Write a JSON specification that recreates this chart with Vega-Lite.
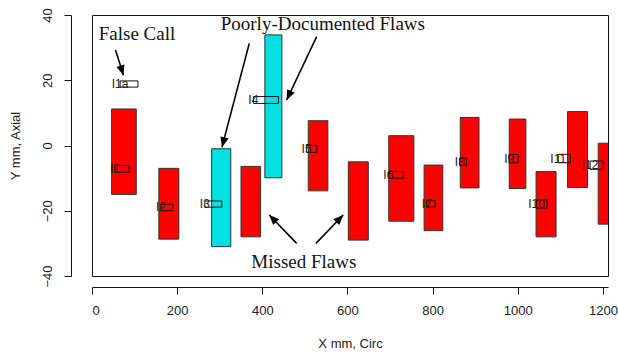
{
  "$schema": "https://vega.github.io/schema/vega-lite/v6.json",
  "width": 516,
  "height": 261,
  "autosize": {"type": "none"},
  "padding": {"left": 92, "top": 15, "right": 10, "bottom": 77},
  "background": "white",
  "config": {
    "font": "Liberation Sans",
    "view": {"stroke": "#111", "strokeWidth": 1},
    "axis": {
      "grid": false,
      "domainColor": "#111",
      "tickColor": "#111",
      "labelColor": "#222",
      "titleColor": "#222",
      "labelFont": "Liberation Sans",
      "titleFont": "Liberation Sans",
      "labelFontSize": 13,
      "titleFontSize": 13,
      "titleFontWeight": "normal",
      "tickSize": 7,
      "domainWidth": 1,
      "tickWidth": 1
    }
  },
  "datasets": {
    "flaws": [
      {"id": "I1", "x1": 46, "x2": 104, "y1": -15.0, "y2": 11.2, "type": "flaw"},
      {"id": "I2", "x1": 157, "x2": 204, "y1": -28.7, "y2": -7.0, "type": "flaw"},
      {"id": "I3", "x1": 281, "x2": 326, "y1": -31.0, "y2": -1.0, "type": "poor"},
      {"id": "M1", "x1": 350, "x2": 396, "y1": -28.0, "y2": -6.4, "type": "missed"},
      {"id": "I4", "x1": 406, "x2": 446, "y1": -9.9, "y2": 33.9, "type": "poor"},
      {"id": "I5", "x1": 508, "x2": 554, "y1": -13.9, "y2": 7.6, "type": "flaw"},
      {"id": "M2", "x1": 602, "x2": 649, "y1": -29.0, "y2": -5.0, "type": "missed"},
      {"id": "I6", "x1": 697, "x2": 756, "y1": -23.2, "y2": 3.0, "type": "flaw"},
      {"id": "I7", "x1": 780, "x2": 824, "y1": -26.1, "y2": -6.0, "type": "flaw"},
      {"id": "I8", "x1": 865, "x2": 909, "y1": -13.0, "y2": 8.6, "type": "flaw"},
      {"id": "I9", "x1": 980, "x2": 1019, "y1": -13.2, "y2": 8.1, "type": "flaw"},
      {"id": "I10", "x1": 1043, "x2": 1090, "y1": -28.0, "y2": -8.0, "type": "flaw"},
      {"id": "I11", "x1": 1117, "x2": 1164, "y1": -12.9, "y2": 10.4, "type": "flaw"},
      {"id": "I12", "x1": 1189, "x2": 1240, "y1": -24.1, "y2": 0.7, "type": "flaw"}
    ],
    "indications": [
      {"label": "I1a", "x1": 66, "x2": 108, "y1": 17.9, "y2": 19.8, "ym": 18.85},
      {"label": "I1", "x1": 54, "x2": 87, "y1": -8.2, "y2": -6.1, "ym": -7.15},
      {"label": "I2", "x1": 162, "x2": 190, "y1": -20.0, "y2": -18.0, "ym": -19.0},
      {"label": "I3", "x1": 265, "x2": 305, "y1": -18.9, "y2": -17.0, "ym": -17.95},
      {"label": "I4", "x1": 379, "x2": 438, "y1": 12.9, "y2": 15.0, "ym": 13.95},
      {"label": "I5", "x1": 504, "x2": 528, "y1": -2.1, "y2": 0.0, "ym": -1.05},
      {"label": "I6", "x1": 696, "x2": 732, "y1": -10.0, "y2": -8.0, "ym": -9.0},
      {"label": "I7", "x1": 786, "x2": 806, "y1": -18.9, "y2": -16.9, "ym": -17.9},
      {"label": "I8", "x1": 864, "x2": 880, "y1": -6.1, "y2": -3.9, "ym": -5.0},
      {"label": "I9", "x1": 980, "x2": 1001, "y1": -5.3, "y2": -2.7, "ym": -4.0},
      {"label": "I10", "x1": 1044, "x2": 1069, "y1": -19.2, "y2": -16.7, "ym": -17.95},
      {"label": "I11", "x1": 1095, "x2": 1124, "y1": -5.3, "y2": -2.7, "ym": -4.0},
      {"label": "I12", "x1": 1170, "x2": 1201, "y1": -7.3, "y2": -4.75, "ym": -6.0}
    ],
    "arrows": [
      {"name": "false call", "x": 55.2, "y": 29.3, "x2": 73.8, "y2": 21.5},
      {"name": "poor I3", "x": 369.4, "y": 31.3, "x2": 305.3, "y2": -0.5},
      {"name": "poor I4", "x": 527.7, "y": 33.35, "x2": 457.2, "y2": 13.95},
      {"name": "missed left", "x": 480.7, "y": -30.0, "x2": 416.4, "y2": -21.3},
      {"name": "missed right", "x": 526.0, "y": -30.0, "x2": 590.1, "y2": -21.3}
    ],
    "notes": [
      {"text": "False Call", "x": 105.7, "y": 32.3},
      {"text": "Poorly-Documented Flaws", "x": 542.2, "y": 35.4},
      {"text": "Missed Flaws", "x": 497.6, "y": -37.5}
    ]
  },
  "layer": [
    {
      "data": {"name": "flaws"},
      "mark": {"type": "rect", "stroke": "#333", "strokeWidth": 1, "clip": true},
      "encoding": {
        "x": {"field": "x1", "type": "quantitative", "scale": {"domain": [0, 1212], "nice": false, "zero": false},
          "axis": {"title": "X mm, Circ", "values": [0, 200, 400, 600, 800, 1000, 1200], "format": "d", "offset": 11, "labelPadding": 10, "titlePadding": 20}},
        "x2": {"field": "x2"},
        "y": {"field": "y1", "type": "quantitative", "scale": {"domain": [-40, 40], "nice": false, "zero": false},
          "axis": {"title": "Y mm, Axial", "values": [-40, -20, 0, 20, 40], "format": "d", "offset": 21, "labelAngle": -90, "labelAlign": "center", "labelBaseline": "bottom", "labelPadding": 10, "titlePadding": 19}},
        "y2": {"field": "y2"},
        "color": {"field": "type", "type": "nominal", "scale": {"domain": ["flaw", "missed", "poor"], "range": ["#ff0000", "#ff0000", "#00e0e0"]}, "legend": null}
      }
    },
    {
      "data": {"name": "indications"},
      "mark": {"type": "rect", "fill": null, "fillOpacity": 0, "stroke": "#111", "strokeWidth": 1},
      "encoding": {
        "x": {"field": "x1", "type": "quantitative"},
        "x2": {"field": "x2"},
        "y": {"field": "y1", "type": "quantitative"},
        "y2": {"field": "y2"}
      }
    },
    {
      "data": {"name": "indications"},
      "mark": {"type": "text", "align": "center", "baseline": "middle", "fontSize": 12, "color": "#222", "font": "Liberation Sans"},
      "encoding": {
        "x": {"field": "x1", "type": "quantitative"},
        "y": {"field": "ym", "type": "quantitative"},
        "text": {"field": "label"}
      }
    },
    {
      "data": {"name": "arrows"},
      "mark": {"type": "rule", "color": "#000", "strokeWidth": 1.6},
      "encoding": {
        "x": {"field": "x", "type": "quantitative"},
        "y": {"field": "y", "type": "quantitative"},
        "x2": {"field": "x2"},
        "y2": {"field": "y2"}
      }
    },
    {
      "data": {"name": "arrows"},
      "transform": [
        {"calculate": "atan2((datum.x2 - datum.x) * 0.42583, (datum.y2 - datum.y) * 3.2625) * 180 / PI", "as": "angle"}
      ],
      "mark": {"type": "point", "shape": "M0,0L-0.42,1L0.42,1Z", "filled": true, "color": "#000", "opacity": 1, "size": 400},
      "encoding": {
        "x": {"field": "x2", "type": "quantitative"},
        "y": {"field": "y2", "type": "quantitative"},
        "angle": {"field": "angle", "type": "quantitative", "scale": null}
      }
    },
    {
      "data": {"name": "notes"},
      "mark": {"type": "text", "align": "center", "baseline": "alphabetic", "font": "Liberation Serif", "fontSize": 19, "color": "#111"},
      "encoding": {
        "x": {"field": "x", "type": "quantitative"},
        "y": {"field": "y", "type": "quantitative"},
        "text": {"field": "text"}
      }
    }
  ]
}
